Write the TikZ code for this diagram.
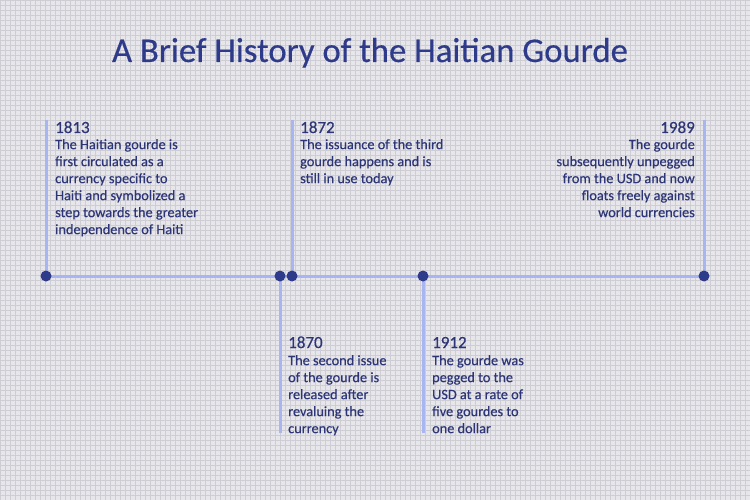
\documentclass[tikz,border=0pt]{standalone}
\usepackage{fontspec}
\setmainfont{Carlito}[FakeBold=0.4]
\definecolor{bgc}{HTML}{E7E6EA}
\definecolor{gridc}{HTML}{CFCDD4}
\definecolor{navy}{HTML}{2E3A8A}
\definecolor{txtc}{HTML}{2C3677}
\definecolor{lineblue}{HTML}{A7B5F0}
\tikzset{
  tl/.style={draw=lineblue, line width=3pt},
  dot/.style={circle, fill=navy, inner sep=0pt, minimum size=11pt},
  yr/.style={font=\fontsize{17}{19}\selectfont, text=txtc, inner sep=0pt},
  body/.style={font=\fontsize{14.3}{17}\selectfont, text=txtc, inner sep=0pt},
}
\begin{document}
\begin{tikzpicture}[x=1pt,y=-1pt]
\fill[bgc] (0,0) rectangle (750,500);
\useasboundingbox (0,0) rectangle (750,500);
\draw[gridc, line width=0.45pt] (0,0) grid[step=5pt] (750,500);
\node[font=\fontsize{34.7}{40}\selectfont, text=navy, inner sep=0pt, anchor=base] (title) at (370,62) {A Brief History of the Haitian Gourde};
% timeline coordinates
\coordinate (p1) at (46,276);
\coordinate (p2) at (280,276);
\coordinate (p3) at (292,276);
\coordinate (p4) at (423,276);
\coordinate (p5) at (704,276);
\coordinate (t1) at (46,120);
\coordinate (t3) at (292,120);
\coordinate (t5) at (704,120);
\coordinate (b2) at (280,433);
\coordinate (b4) at (423,433);
\draw[tl] (t1) -- (p1);
\draw[tl] (t3) -- (p3);
\draw[tl] (t5) -- (p5);
\draw[tl] (p2) -- (b2);
\draw[tl] (p4) -- (b4);
\draw[tl] (p1) -- (p5);
\node[dot] (d1) at (p1) {};
\node[dot] (d2) at (p2) {};
\node[dot] (d3) at (p3) {};
\node[dot] (d4) at (p4) {};
\node[dot] (d5) at (p5) {};
% 1813
\node[yr, anchor=base west] (y1813) at (55,133) {1813};
\node[body, anchor=north west, align=left] (b1813) at (55,139) {The Haitian gourde is\\first circulated as a\\currency specific to\\Haiti and symbolized a\\step towards the greater\\independence of Haiti};
% 1872
\node[yr, anchor=base west] (y1872) at (300,133) {1872};
\node[body, anchor=north west, align=left] (b1872) at (300,139) {The issuance of the third\\gourde happens and is\\still in use today};
% 1989
\node[yr, anchor=base east] (y1989) at (695,133) {1989};
\node[body, anchor=north east, align=right] (b1989) at (695,139) {The gourde\\subsequently unpegged\\from the USD and now\\floats freely against\\world currencies};
% 1870
\node[yr, anchor=base west] (y1870) at (288,348) {1870};
\node[body, anchor=north west, align=left] (b1870) at (288,355) {The second issue\\of the gourde is\\released after\\revaluing the\\currency};
% 1912
\node[yr, anchor=base west] (y1912) at (432,348) {1912};
\node[body, anchor=north west, align=left] (b1912) at (432,355) {The gourde was\\pegged to the\\USD at a rate of\\five gourdes to\\one dollar};
\end{tikzpicture}
\end{document}
